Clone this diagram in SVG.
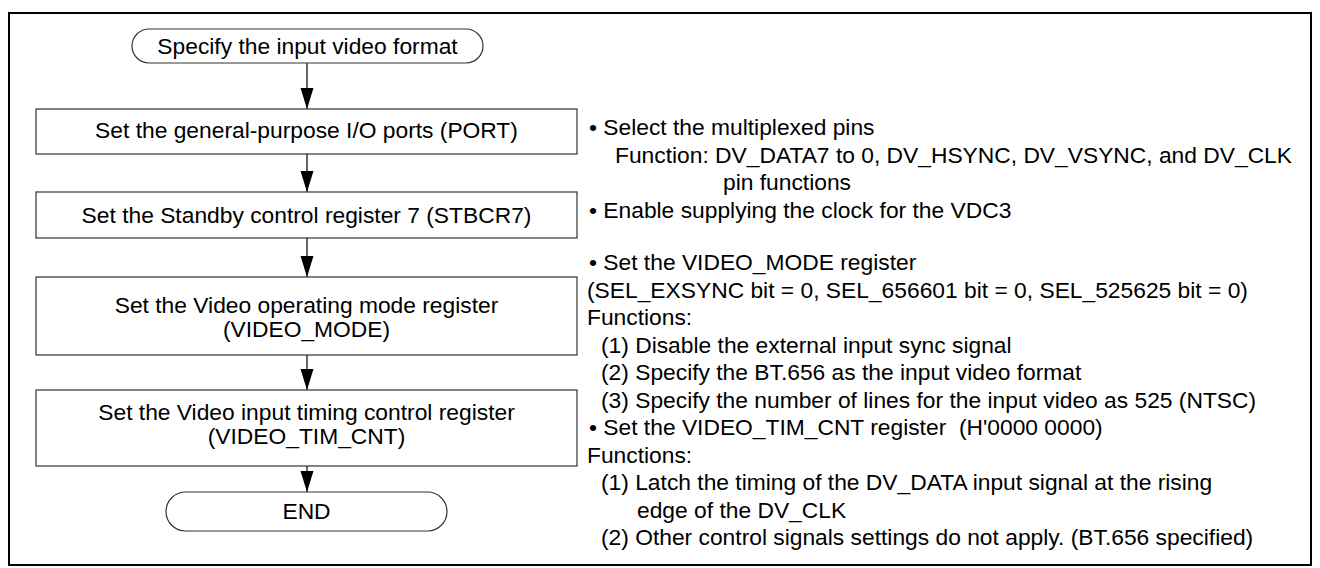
<svg xmlns="http://www.w3.org/2000/svg" width="1320" height="568" viewBox="0 0 1320 568">
<defs>
<marker id="ah" markerUnits="userSpaceOnUse" markerWidth="21" markerHeight="14" refX="21" refY="7" orient="auto" viewBox="0 0 21 14">
<path d="M0,0.5 L21,7 L0,13.5 Z" fill="#000"/>
</marker>
<style>
text{font-family:"Liberation Sans",Arial,sans-serif;font-size:22.8px;fill:#000}
.c{text-anchor:middle}
.box{fill:#fff;stroke:#333;stroke-width:1.2}
.cn{stroke:#000;stroke-width:1.2;fill:none;marker-end:url(#ah)}
</style>
</defs>
<rect x="9" y="13" width="1302" height="552" fill="#fff" stroke="#000" stroke-width="2"/>
<g id="connectors">
<line class="cn" x1="307" y1="63" x2="307" y2="109"/>
<line class="cn" x1="307" y1="154" x2="307" y2="192"/>
<line class="cn" x1="307" y1="238" x2="307" y2="277"/>
<line class="cn" x1="307" y1="355" x2="307" y2="390"/>
<line class="cn" x1="307" y1="466" x2="307" y2="492"/>
</g>
<g id="start">
<rect class="box" x="132" y="29" width="351" height="34" rx="17"/>
<text class="c" x="307.5" y="53.5">Specify the input video format</text>
</g>
<g id="port">
<rect class="box" x="36" y="109" width="541" height="45"/>
<text class="c" x="306.5" y="138">Set the general-purpose I/O ports (PORT)</text>
</g>
<g id="stbcr7">
<rect class="box" x="36" y="192" width="541" height="46"/>
<text class="c" x="306.5" y="222.5">Set the Standby control register 7 (STBCR7)</text>
</g>
<g id="video_mode">
<rect class="box" x="36" y="277" width="541" height="78"/>
<text class="c" x="306.5" y="313">Set the Video operating mode register</text>
<text class="c" x="306.5" y="337">(VIDEO_MODE)</text>
</g>
<g id="video_tim_cnt">
<rect class="box" x="36" y="390" width="541" height="76"/>
<text class="c" x="306.5" y="420">Set the Video input timing control register</text>
<text class="c" x="306.5" y="444">(VIDEO_TIM_CNT)</text>
</g>
<g id="end">
<rect class="box" x="166" y="492" width="281" height="39" rx="19.5"/>
<text class="c" x="306.5" y="519">END</text>
</g>
<g id="notes">
<text x="589" y="135">• Select the multiplexed pins</text>
<text x="615" y="162.5">Function: DV_DATA7 to 0, DV_HSYNC, DV_VSYNC, and DV_CLK</text>
<text x="723" y="190">pin functions</text>
<text x="589" y="217.5">• Enable supplying the clock for the VDC3</text>
<text x="589" y="270">• Set the VIDEO_MODE register</text>
<text x="587" y="297.5">(SEL_EXSYNC bit = 0, SEL_656601 bit = 0, SEL_525625 bit = 0)</text>
<text x="587" y="325">Functions:</text>
<text x="601" y="352.5">(1) Disable the external input sync signal</text>
<text x="601" y="380">(2) Specify the BT.656 as the input video format</text>
<text x="601" y="407.5">(3) Specify the number of lines for the input video as 525 (NTSC)</text>
<text x="589" y="435" xml:space="preserve">• Set the VIDEO_TIM_CNT register  (H'0000 0000)</text>
<text x="587" y="462.5">Functions:</text>
<text x="601" y="490">(1) Latch the timing of the DV_DATA input signal at the rising</text>
<text x="637" y="517.5">edge of the DV_CLK</text>
<text x="601" y="545">(2) Other control signals settings do not apply. (BT.656 specified)</text>
</g>
</svg>
